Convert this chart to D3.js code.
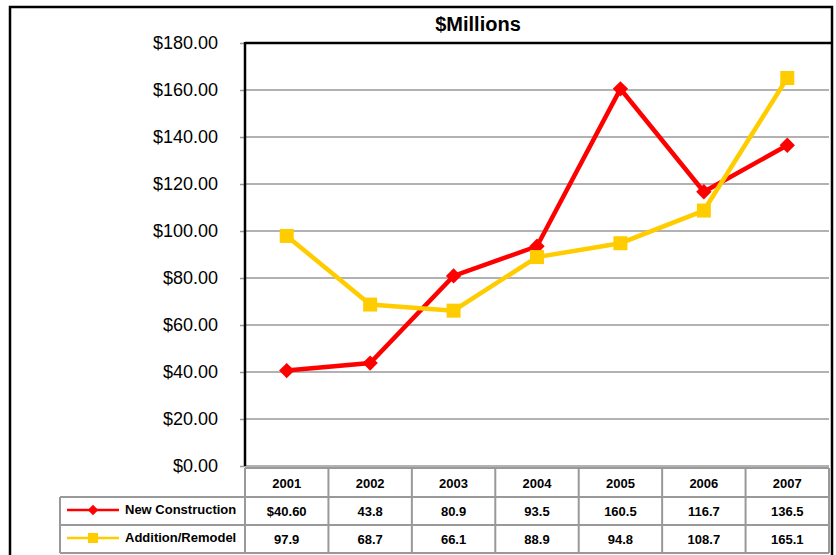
<!DOCTYPE html>
<html>
<head>
<meta charset="utf-8">
<script src="https://cdn.jsdelivr.net/npm/d3@7"></script>
<style>
  body { margin: 0; background: #fff; }
  svg { display: block; font-family: Arial, "Liberation Sans", sans-serif; }
</style>
</head>
<body>
<svg id="chart" width="836" height="555"></svg>
<script>
var years = ["2001", "2002", "2003", "2004", "2005", "2006", "2007"];
var newConstruction = [40.6, 43.8, 80.9, 93.5, 160.5, 116.7, 136.5];
var additionRemodel = [97.9, 68.7, 66.1, 88.9, 94.8, 108.7, 165.1];
var yTicks = [0, 20, 40, 60, 80, 100, 120, 140, 160, 180];

var series = [
  { name: "New Construction", values: newConstruction, color: "#ff0000", symbol: d3.symbolDiamond2 },
  { name: "Addition/Remodel", values: additionRemodel, color: "#ffcc00", symbol: d3.symbolSquare }
];

var svg = d3.select("#chart");

var plotLeft = 245, plotRight = 829, plotTop = 43, plotBottom = 466;

var x = d3.scaleBand().domain(years).range([plotLeft, plotRight]);
var y = d3.scaleLinear().domain([0, 180]).range([plotBottom, plotTop]);

// outer frame
svg.append("rect")
  .attr("x", 10).attr("y", 7)
  .attr("width", 822).attr("height", 560)
  .attr("fill", "none").attr("stroke", "#000").attr("stroke-width", 2.5);

// title
svg.append("text")
  .attr("x", 478).attr("y", 31)
  .attr("text-anchor", "middle")
  .attr("font-size", 20).attr("font-weight", "bold")
  .text("$Millions");

// gridlines
svg.append("g")
  .selectAll("line")
  .data(yTicks)
  .enter().append("line")
  .attr("x1", plotLeft).attr("x2", plotRight)
  .attr("y1", function(d) { return y(d); })
  .attr("y2", function(d) { return y(d); })
  .attr("stroke", "#999").attr("stroke-width", 1.5);

// y axis
var yAxis = svg.append("g")
  .attr("transform", "translate(" + plotLeft + ",0)")
  .call(d3.axisLeft(y).tickValues(yTicks).tickFormat(d3.format("$.2f")).tickSize(5).tickPadding(22));
yAxis.select(".domain").remove();
yAxis.selectAll(".tick line").attr("stroke", "#999").attr("stroke-width", 1.5);
yAxis.selectAll(".tick text")
  .attr("font-size", 18).attr("fill", "#000")
  .attr("font-family", "Arial, 'Liberation Sans', sans-serif");

// plot frame lines (top + left black)
svg.append("line")
  .attr("x1", plotLeft).attr("x2", plotRight + 2)
  .attr("y1", plotTop).attr("y2", plotTop)
  .attr("stroke", "#000").attr("stroke-width", 2.5);
svg.append("line")
  .attr("x1", plotLeft).attr("x2", plotLeft)
  .attr("y1", plotTop - 1).attr("y2", plotBottom)
  .attr("stroke", "#000").attr("stroke-width", 2.5);

// series lines and markers
var line = d3.line()
  .x(function(d, i) { return x(years[i]) + x.bandwidth() / 2; })
  .y(function(d) { return y(d); });

series.forEach(function(s) {
  svg.append("path")
    .datum(s.values)
    .attr("d", line)
    .attr("fill", "none")
    .attr("stroke", s.color)
    .attr("stroke-width", 4.5)
    .attr("stroke-linejoin", "miter");

  svg.append("g")
    .selectAll("path")
    .data(s.values)
    .enter().append("path")
    .attr("transform", function(d, i) {
      return "translate(" + (x(years[i]) + x.bandwidth() / 2) + "," + y(d) + ")";
    })
    .attr("d", d3.symbol().type(s.symbol).size(s.symbol === d3.symbolSquare ? 196 : 150))
    .attr("fill", s.color);
});

// data table
var rowTops = [468, 497, 525, 553];
var legendLeft = 60;
var grid = svg.append("g").attr("stroke", "#999").attr("stroke-width", 2).attr("fill", "none");

// header row (year cells only)
grid.append("line").attr("x1", plotLeft).attr("x2", plotRight).attr("y1", rowTops[0]).attr("y2", rowTops[0]);
grid.append("line").attr("x1", legendLeft).attr("x2", plotRight).attr("y1", rowTops[1]).attr("y2", rowTops[1]);
grid.append("line").attr("x1", legendLeft).attr("x2", plotRight).attr("y1", rowTops[2]).attr("y2", rowTops[2]);
grid.append("line").attr("x1", legendLeft).attr("x2", plotRight).attr("y1", rowTops[3]).attr("y2", rowTops[3]);
grid.append("line").attr("x1", legendLeft).attr("x2", legendLeft).attr("y1", rowTops[1]).attr("y2", rowTops[3]);
grid.selectAll(".vcol")
  .data(years.concat(["end"]))
  .enter().append("line")
  .attr("x1", function(d, i) { return plotLeft + i * x.bandwidth(); })
  .attr("x2", function(d, i) { return plotLeft + i * x.bandwidth(); })
  .attr("y1", rowTops[0]).attr("y2", rowTops[3]);

var tableFont = 13;
svg.append("g")
  .selectAll("text")
  .data(years)
  .enter().append("text")
  .attr("x", function(d) { return x(d) + x.bandwidth() / 2; })
  .attr("y", (rowTops[0] + rowTops[1]) / 2 + 5)
  .attr("text-anchor", "middle")
  .attr("font-size", tableFont).attr("font-weight", "bold")
  .text(function(d) { return d; });

series.forEach(function(s, r) {
  var cy = (rowTops[r + 1] + rowTops[r + 2]) / 2;
  var g = svg.append("g");
  g.append("line")
    .attr("x1", 67).attr("x2", 119)
    .attr("y1", cy - 1).attr("y2", cy - 1)
    .attr("stroke", s.color).attr("stroke-width", 2.5);
  g.append("path")
    .attr("transform", "translate(93," + (cy - 1) + ")")
    .attr("d", d3.symbol().type(s.symbol).size(s.symbol === d3.symbolSquare ? 100 : 70))
    .attr("fill", s.color);
  g.append("text")
    .attr("x", 125).attr("y", cy + 3)
    .attr("font-size", tableFont).attr("font-weight", "bold")
    .text(s.name);

  g.selectAll(".val")
    .data(s.values)
    .enter().append("text")
    .attr("x", function(d, i) { return x(years[i]) + x.bandwidth() / 2; })
    .attr("y", cy + 5)
    .attr("text-anchor", "middle")
    .attr("font-size", tableFont).attr("font-weight", "bold")
    .text(function(d, i) { return (r === 0 && i === 0) ? d3.format("$.2f")(d) : d3.format(".1f")(d); });
});
</script>
</body>
</html>
